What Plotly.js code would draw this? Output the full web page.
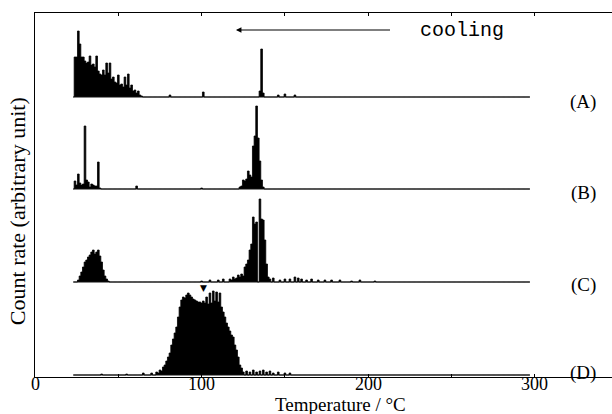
<!DOCTYPE html>
<html><head><meta charset="utf-8">
<script src="https://cdn.plot.ly/plotly-3.0.1.min.js"></script>
<style>html,body{margin:0;padding:0;background:#fff}#chart{width:612px;height:414px}</style>
</head><body><div id="chart"></div>
<script>
// Temperatures (°C) and count rates (arbitrary units)
const tempA = [24,25,26,27,28,29,30,31,32,33,34,35,36,37,38,39,40,41,42,43,44,45,46,47,48,49,50,51,52,53,54,55,56,57,58,59,60,61,62,63,64,
  81,101,135,136,137,146,150,156];
const countA = [40,40,66,53,40,40,36,34,35,41,32,33,30,41,26,23,22,27,22,34,24,34,18,20,15,14,22,12,13,10,20,12,23,9,12,6,7,4,6,2,1,
  2,5,6,48,4,2,3,2];

const tempB = [24,25,26,27,28,29,30,31,32,33,34,35,36,37,38,39,61,100,
  123,124,125,126,127,128,129,130,131,132,133,134,135,136,137];
const countB = [8,4,15,6,4,5,63,9,7,2,5,4,3,3,27,1,3,1,
  2,3,9,8,10,18,14,12,43,53,83,51,28,9,2];

const tempC = [26,27,28,29,30,31,32,33,34,35,36,37,38,39,40,41,42,43,44,
  100,105,110,113,
  117,118,119,120,121,122,123,124,125,126,127,128,129,130,131,132,133,134,135,136,137,138,139,140,141,
  143,147,150,153,156,158,160,163,166,170,174,178,183,190,195,204];
const countC = [2,6,10,15,20,22,25,27,30,32,28,30,32,26,20,12,6,3,1,
  1,2,2,3,
  3,2,5,3,4,7,5,8,6,15,18,22,32,38,65,58,60,0,83,63,62,42,18,5,3,
  4,2,3,3,5,4,3,2,3,2,2,2,2,1,2,1];

const tempD = [40,55,65,70,
  73,74,75,76,77,78,79,80,81,82,83,84,85,86,87,88,89,90,91,92,93,94,95,96,97,98,99,100,
  101,102,103,104,105,106,107,108,109,110,111,112,113,114,115,116,117,118,119,120,121,122,123,124,125,
  127,129,131,133,135,137,139,141,143,146,150,153];
const countD = [1,1,2,2,
  3,2,5,4,8,10,14,18,22,30,36,42,48,58,68,75,78,77,80,82,80,78,76,75,74,73,73,72,
  74,72,78,71,82,72,84,74,83,73,82,68,63,58,52,48,44,40,38,30,25,18,10,7,3,
  4,3,5,3,4,5,3,4,2,3,2,2];

const seriesNames = ['(A)','(B)','(C)','(D)'];
const baselineT = [23, 297];
const xTickVals = [0,50,100,150,200,250,300];
const xTickText = ['0','','100','','200','','300'];

// vertical stacking offsets of each trace (layout, not data)
const offsets = [278, 186, 93, 0];
const temps = [tempA, tempB, tempC, tempD];
const counts = [countA, countB, countC, countD];

// Build a contiguous 1 °C histogram table (zeros where no counts were read)
function histTable(t, c, off) {
  const m = new Map();
  t.forEach((v, k) => m.set(v, c[k]));
  const xs = [], ys = [];
  for (let T = baselineT[0]; T <= baselineT[1]; T++) {
    xs.push(T);
    ys.push(off + (m.has(T) ? m.get(T) : 0));
  }
  return {xs, ys};
}

const traces = [];
temps.forEach((t, i) => {
  traces.push({
    type: 'scatter', mode: 'lines', x: baselineT, y: [offsets[i], offsets[i]],
    line: {color: '#111', width: 1}, hoverinfo: 'skip'
  });
  const h = histTable(t, counts[i], offsets[i]);
  traces.push({
    type: 'scatter', mode: 'lines', x: h.xs, y: h.ys, name: seriesNames[i],
    line: {color: '#000', width: 0.8, shape: 'hvh'},
    fill: 'tonexty', fillcolor: '#000'
  });
});

const serif = 'Liberation Serif, Times New Roman, serif';
const labelY = [273, 182, 90, 2];
const annotations = seriesNames.map((s, i) => ({
  x: 329, y: labelY[i], xref: 'x', yref: 'y', text: s, showarrow: false,
  font: {family: serif, size: 19, color: '#000'}
}));
xTickVals.forEach((v, k) => {
  if (xTickText[k]) annotations.push({
    x: v, y: -0.0195, xref: 'x', yref: 'paper', text: xTickText[k], showarrow: false,
    xanchor: 'center', yanchor: 'middle', borderpad: 0,
    font: {family: serif, size: 18, color: '#000'}
  });
});
annotations.push(
  {x: 120.6, y: 345, ax: 214, ay: 345, xref: 'x', yref: 'y', axref: 'x', ayref: 'y',
   text: '', showarrow: true, arrowhead: 2, arrowsize: 1, arrowwidth: 1.1, arrowcolor: '#000'},
  {x: 256, y: 345, xref: 'x', yref: 'y', text: 'cooling', showarrow: false,
   font: {family: 'Liberation Mono, Courier New, monospace', size: 20, color: '#000'}},
  {x: 101, y: 87, xref: 'x', yref: 'y', text: '▼', showarrow: false,
   font: {family: 'DejaVu Sans', size: 9, color: '#000'}},
  {x: -0.031, y: 0.456, xref: 'paper', yref: 'paper', text: 'Count rate (arbitrary unit)',
   textangle: -90, showarrow: false, xanchor: 'center', yanchor: 'middle',
   font: {family: serif, size: 22, color: '#000'}},
  {x: 0.53, y: -0.0742, xref: 'paper', yref: 'paper', text: 'Temperature / °C',
   showarrow: false, xanchor: 'center', yanchor: 'middle', borderpad: 0,
   font: {family: serif, size: 19, color: '#000'}}
);

const layout = {
  width: 612, height: 414,
  margin: {l: 35, r: 0, t: 13, b: 37},
  paper_bgcolor: '#fff', plot_bgcolor: '#fff',
  showlegend: false,
  xaxis: {
    range: [0, 346.3], tickvals: xTickVals, ticktext: xTickText, showticklabels: false,
    ticks: 'inside', ticklen: 3, tickcolor: '#000', tickwidth: 1,
    showline: true, linecolor: '#000', linewidth: 1, mirror: 'ticks',
    showgrid: false, zeroline: false
  },
  yaxis: {
    range: [-2, 362], showticklabels: false, ticks: '', showgrid: false,
    zeroline: false, showline: true, mirror: true, linecolor: '#000', linewidth: 1
  },
  annotations: annotations
};

Plotly.newPlot('chart', traces, layout, {displayModeBar: false, staticPlot: true});
</script>
</body></html>
